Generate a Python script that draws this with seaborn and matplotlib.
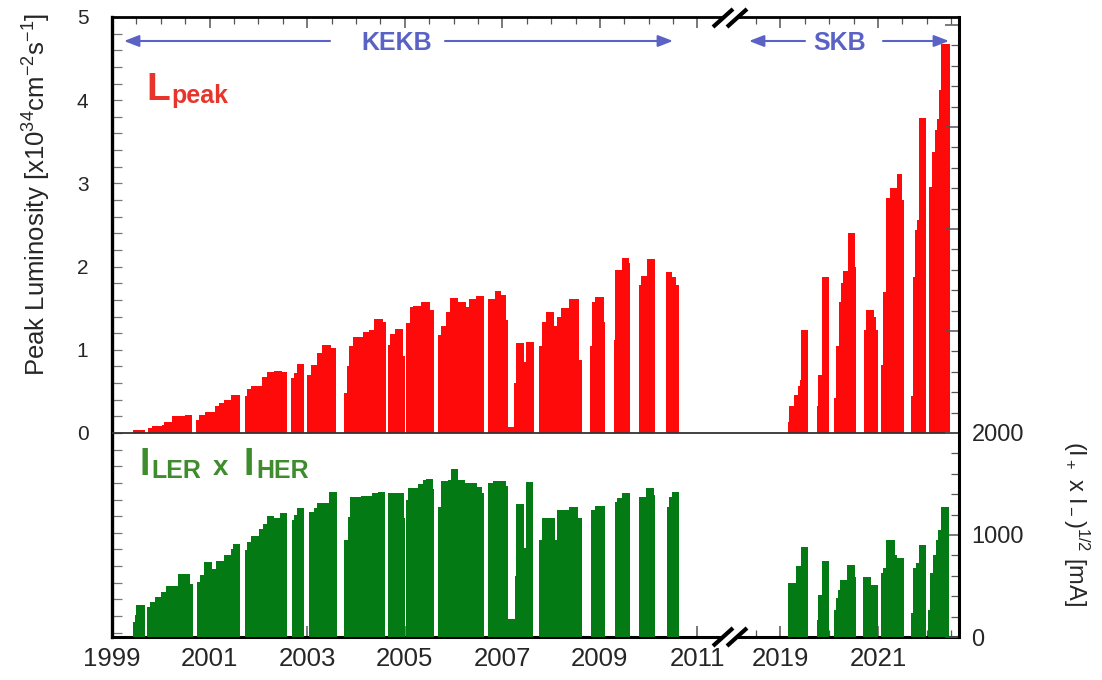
import numpy as np
import matplotlib
matplotlib.use("Agg")
import matplotlib.pyplot as plt
from matplotlib.lines import Line2D
from matplotlib.patches import Polygon, FancyArrowPatch
import seaborn as sns

# ---------------- data (decimal year, value; each run closes with a 0) ----------------
lum_kekb_years = [
    1999.43, 1999.68,
    1999.73, 1999.82, 2000.02, 2000.07, 2000.23, 2000.30, 2000.50, 2000.64,
    2000.73, 2000.78, 2000.91, 2001.12, 2001.19, 2001.29, 2001.44, 2001.62,
    2001.72, 2001.77, 2001.84, 2002.07, 2002.18, 2002.32, 2002.49, 2002.59,
    2002.66, 2002.73, 2002.79, 2002.94,
    2003.00, 2003.07, 2003.21, 2003.31, 2003.49, 2003.60,
    2003.76, 2003.81, 2003.86, 2003.93, 2004.14, 2004.27, 2004.38, 2004.55, 2004.62,
    2004.66, 2004.70, 2004.80, 2004.96, 2005.01,
    2005.03, 2005.10, 2005.17, 2005.34, 2005.51, 2005.60,
    2005.69, 2005.75, 2005.84, 2005.92, 2006.09, 2006.26, 2006.31, 2006.47, 2006.63,
    2006.71, 2006.85, 2006.98, 2007.07, 2007.11,
    2007.12, 2007.24, 2007.29, 2007.45, 2007.48, 2007.64,
    2007.75, 2007.81, 2007.89, 2008.05, 2008.12, 2008.20, 2008.37, 2008.57, 2008.63,
    2008.80, 2008.83, 2008.90, 2009.08, 2009.11,
    2009.28, 2009.31, 2009.45, 2009.59, 2009.62,
    2009.80, 2009.85, 2009.97, 2010.13,
    2010.36, 2010.48, 2010.56, 2010.63,
]
lum_kekb_values = [
    0.04, 0,
    0.056, 0.084, 0.10, 0.13, 0.20, 0.21, 0.22, 0,
    0.156, 0.216, 0.248, 0.32, 0.36, 0.40, 0.46, 0,
    0.44, 0.525, 0.56, 0.67, 0.73, 0.74, 0.73, 0,
    0.66, 0.72, 0.83, 0,
    0.70, 0.82, 0.96, 1.06, 1.02, 0,
    0.48, 0.80, 1.04, 1.15, 1.21, 1.24, 1.37, 1.33, 0,
    1.06, 1.19, 1.25, 0.92, 0,
    1.32, 1.52, 1.53, 1.58, 1.48, 0,
    1.18, 1.29, 1.46, 1.62, 1.57, 1.52, 1.61, 1.65, 0,
    1.61, 1.71, 1.66, 1.36, 0,
    0.076, 0.60, 1.08, 0.85, 1.09, 0,
    1.04, 1.34, 1.46, 1.29, 1.39, 1.50, 1.61, 0.88, 0,
    1.04, 1.58, 1.64, 1.34, 0,
    1.12, 1.96, 2.10, 2.04, 0,
    1.78, 1.89, 2.09, 0,
    1.93, 1.87, 1.78, 0,
]
lum_skb_years = [
    2019.15, 2019.18, 2019.28, 2019.35, 2019.40, 2019.42, 2019.56,
    2019.74, 2019.78, 2019.85, 2020.00,
    2020.09, 2020.14, 2020.20, 2020.24, 2020.29, 2020.38, 2020.52, 2020.54,
    2020.72, 2020.76, 2020.91, 2020.96, 2020.99,
    2021.07, 2021.10, 2021.17, 2021.25, 2021.38, 2021.50, 2021.53,
    2021.68, 2021.72, 2021.75, 2021.80, 2021.85, 2021.98,
    2022.05, 2022.10, 2022.16, 2022.20, 2022.25, 2022.29, 2022.30, 2022.47,
]
lum_skb_values = [
    0.136, 0.32, 0.46, 0.56, 0.64, 1.24, 0,
    0.32, 0.70, 1.88, 0,
    0.42, 1.04, 1.58, 1.80, 1.95, 2.40, 2.00, 0,
    1.24, 1.48, 1.40, 1.24, 0,
    0.82, 1.70, 2.83, 2.94, 3.11, 2.80, 0,
    0.44, 1.88, 2.44, 2.56, 3.79, 0,
    2.96, 3.38, 3.64, 3.77, 4.12, 4.20, 4.68, 0,
]
cur_kekb_years = [
    1999.43, 1999.48, 1999.50, 1999.68,
    1999.72, 1999.78, 1999.88, 2000.00, 2000.10, 2000.36, 2000.59, 2000.65,
    2000.74, 2000.81, 2000.88, 2001.05, 2001.14, 2001.29, 2001.44, 2001.48, 2001.63,
    2001.72, 2001.77, 2001.84, 2002.01, 2002.09, 2002.17, 2002.32, 2002.44, 2002.58,
    2002.68, 2002.72, 2002.80, 2002.94,
    2003.04, 2003.14, 2003.21, 2003.45, 2003.61,
    2003.76, 2003.83, 2003.88, 2004.10, 2004.32, 2004.46, 2004.60,
    2004.66, 2004.98, 2005.01,
    2005.03, 2005.06, 2005.27, 2005.37, 2005.44, 2005.58, 2005.60,
    2005.69, 2005.75, 2005.89, 2005.95, 2006.09, 2006.23, 2006.49, 2006.59, 2006.63,
    2006.71, 2006.81, 2007.07, 2007.11,
    2007.12, 2007.27, 2007.29, 2007.45, 2007.48, 2007.62,
    2007.75, 2007.82, 2008.07, 2008.12, 2008.37, 2008.56, 2008.63,
    2008.82, 2008.90, 2009.11,
    2009.30, 2009.35, 2009.45, 2009.62,
    2009.80, 2009.95, 2010.11, 2010.13,
    2010.38, 2010.41, 2010.47, 2010.63,
]
cur_kekb_values = [
    150, 216, 314, 0,
    294, 343, 392, 441, 500, 618, 520, 0,
    539, 608, 735, 667, 745, 804, 860, 912, 0,
    853, 931, 990, 1059, 1108, 1186, 1170, 1216, 0,
    1147, 1200, 1265, 0,
    1225, 1260, 1314, 1422, 0,
    951, 1177, 1373, 1382, 1412, 1422, 0,
    1412, 1167, 0,
    1343, 1461, 1500, 1539, 1549, 1450, 0,
    1278, 1529, 1540, 1647, 1539, 1510, 1474, 1412, 0,
    1510, 1529, 1480, 0,
    176, 600, 1304, 869, 1520, 0,
    951, 1167, 950, 1245, 1275, 1167, 0,
    1245, 1284, 0,
    1323, 1363, 1412, 0,
    1373, 1461, 1390, 0,
    1275, 1373, 1422, 0,
]
cur_skb_years = [
    2019.15, 2019.31, 2019.42, 2019.56,
    2019.74, 2019.78, 2019.85, 2020.00,
    2020.09, 2020.13, 2020.17, 2020.22, 2020.36, 2020.52, 2020.54,
    2020.70, 2020.86, 2020.99,
    2021.07, 2021.11, 2021.17, 2021.34, 2021.39, 2021.53,
    2021.68, 2021.72, 2021.77, 2021.84, 2021.98,
    2022.03, 2022.06, 2022.12, 2022.18, 2022.23, 2022.30, 2022.46,
]
cur_skb_values = [
    529, 696, 882, 0,
    167, 412, 745, 0,
    265, 382, 461, 559, 706, 590, 0,
    588, 510, 0,
    627, 673, 951, 804, 775, 0,
    232, 676, 722, 902, 0,
    265, 627, 804, 951, 1049, 1275, 0,
]

year_labels = [1999, 2001, 2003, 2005, 2007, 2009, 2011, 2019, 2021]
lum_tick_values = [0, 1, 2, 3, 4, 5]
cur_tick_values = [0, 1000, 2000]

# ---------------- broken time axis ----------------
GAP_YEARS = 6.3          # years cut out between the two machines
X_MIN, X_MAX = 1999.0, 2016.36


def to_axis(years):
    y = np.asarray(years, dtype=float)
    return np.where(y > 2015, y - GAP_YEARS, y)


W, H = 1102, 680


def fx(x):
    return x / W


def fy(y):
    return 1 - y / H


sns.set_theme(style="ticks")
plt.rcParams.update({
    "font.family": ["Liberation Sans", "DejaVu Sans"],
    "mathtext.fontset": "custom",
    "mathtext.rm": "Liberation Sans",
    "mathtext.it": "Liberation Sans:italic",
    "mathtext.bf": "Liberation Sans:bold",
    "axes.edgecolor": "black",
})

RED = "#FF0A0A"
GREEN = "#047A15"
LPEAK_COL = "#E8352B"
CUR_TXT_COL = "#3F8C2E"
BLUE = "#5A62C6"

fig = plt.figure(figsize=(W / 100, H / 100), dpi=100)
ax = fig.add_axes([112 / W, (H - 637) / H, 847 / W, 620 / H])
ax2 = ax.twinx()


def step_fill(axis, years, values, color):
    # run record as a weighted step histogram: one bin per constant stretch
    edges = to_axis(years)
    heights = np.asarray(values[:-1], dtype=float)
    mids = 0.5 * (edges[:-1] + edges[1:])
    sns.histplot(x=mids, weights=heights, bins=[float(e) for e in edges],
                 element="step", fill=True, color=color, alpha=1.0,
                 linewidth=0, ax=axis)


step_fill(ax, lum_kekb_years + lum_skb_years, lum_kekb_values + lum_skb_values, RED)
step_fill(ax2, cur_kekb_years + cur_skb_years, cur_kekb_values + cur_skb_values, GREEN)

# limits: luminosity on top half, current on the bottom half
ax.set_xlim(X_MIN, X_MAX)
ax.set_ylim(-2.452, 5.0)
ax2.set_ylim(0, 6078)
ax.axhline(0, color="#333333", lw=1.3, zorder=3)

ax.set_xlabel("")
ax.set_ylabel("")
ax2.set_ylabel("")

# x ticks
ax.set_xticks(to_axis(year_labels), labels=[str(y) for y in year_labels], fontsize=18.5)
half_years = [y / 2 for y in range(2 * 1999, 2 * 2011 + 1)] + [2018.5 + 0.5 * k for k in range(9)]
ax.set_xticks(to_axis(half_years), minor=True)
ax.tick_params(axis="x", which="both", direction="in", top=True, bottom=True,
               color="#555555", pad=7)
ax.tick_params(axis="x", which="major", length=8, width=1.1)
ax.tick_params(axis="x", which="minor", length=5, width=0.9)

# left ticks
ax.set_yticks(lum_tick_values, labels=[str(v) for v in lum_tick_values], fontsize=15)
ax.set_yticks(np.round(np.arange(-2.4, 5.001, 0.2), 2), minor=True)
ax.tick_params(axis="y", which="both", direction="in", left=True, right=False,
               color="#777777", length=7, width=0.9, pad=17)

# right ticks
right_major = list(range(0, 6001, 1000))
ax2.set_yticks(right_major,
               labels=[str(v) if v in cur_tick_values else "" for v in right_major],
               fontsize=17)
ax2.set_yticks(np.arange(0, 6001, 200), minor=True)
ax2.tick_params(axis="y", which="both", direction="in", color="#555555", pad=9)
ax2.tick_params(axis="y", which="major", length=10, width=1.1)
ax2.tick_params(axis="y", which="minor", length=6, width=0.9)

# frame
for side in ["left", "right", "top", "bottom"]:
    ax2.spines[side].set_visible(side == "right")
ax.spines["right"].set_visible(False)
ax.spines["left"].set_linewidth(2.4)
ax.spines["bottom"].set_linewidth(2.2)
ax.spines["top"].set_linewidth(2.0)
ax2.spines["right"].set_linewidth(2.2)

# axis break marks on top and bottom edges
for y0 in (18, 637):
    c1, c2 = 723, 737
    fig.add_artist(Polygon([(fx(c1 - 10), fy(y0 + 9)), (fx(c1 + 10), fy(y0 - 9)),
                            (fx(c2 + 10), fy(y0 - 9)), (fx(c2 - 10), fy(y0 + 9))],
                           closed=True, facecolor="white", edgecolor="none",
                           transform=fig.transFigure))
    for c in (c1, c2):
        fig.add_artist(Line2D([fx(c - 10), fx(c + 10)], [fy(y0 + 9), fy(y0 - 9)],
                              color="black", lw=3.0, solid_capstyle="butt",
                              transform=fig.transFigure))

# axis titles
fig.text(fx(37), fy(194), r"Peak Luminosity [x10$^{34}$cm$^{-2}$s$^{-1}$]",
         rotation=90, ha="center", va="center", fontsize=18.5)
fig.text(fx(1076), fy(524), r"(I$_+$ x I$_-$)$^{1/2}$ [mA]",
         rotation=270, ha="center", va="center", fontsize=17)

# era arrows and names
arrow_kw = dict(arrowstyle="-|>,head_length=0.9,head_width=0.35", color=BLUE,
                lw=1.5, mutation_scale=10, shrinkA=0, shrinkB=0)
for x_from, x_to in [(330, 124), (445, 673), (805, 749), (883, 949)]:
    fig.add_artist(FancyArrowPatch((fx(x_from), fy(41)), (fx(x_to), fy(41)),
                                   transform=fig.transFigure, **arrow_kw))
fig.text(fx(397), fy(43), "KEKB", ha="center", va="center", fontsize=18,
         fontweight="bold", color=BLUE)
fig.text(fx(840), fy(43), "SKB", ha="center", va="center", fontsize=18,
         fontweight="bold", color=BLUE)

# series names
fig.text(fx(146), fy(100), "L", fontsize=28, fontweight="bold", color=LPEAK_COL,
         ha="left", va="baseline")
fig.text(fx(171), fy(103), "peak", fontsize=18, fontweight="bold", color=LPEAK_COL,
         ha="left", va="baseline")
fig.text(fx(140), fy(475), "I", fontsize=27, fontweight="bold", color=CUR_TXT_COL,
         ha="left", va="baseline")
fig.text(fx(151), fy(478), "LER", fontsize=18, fontweight="bold", color=CUR_TXT_COL,
         ha="left", va="baseline")
fig.text(fx(213), fy(475), "x", fontsize=20, fontweight="bold", color=CUR_TXT_COL,
         ha="left", va="baseline")
fig.text(fx(244), fy(475), "I", fontsize=27, fontweight="bold", color=CUR_TXT_COL,
         ha="left", va="baseline")
fig.text(fx(256), fy(478), "HER", fontsize=18, fontweight="bold", color=CUR_TXT_COL,
         ha="left", va="baseline")

fig.savefig("out.png", dpi=100)
